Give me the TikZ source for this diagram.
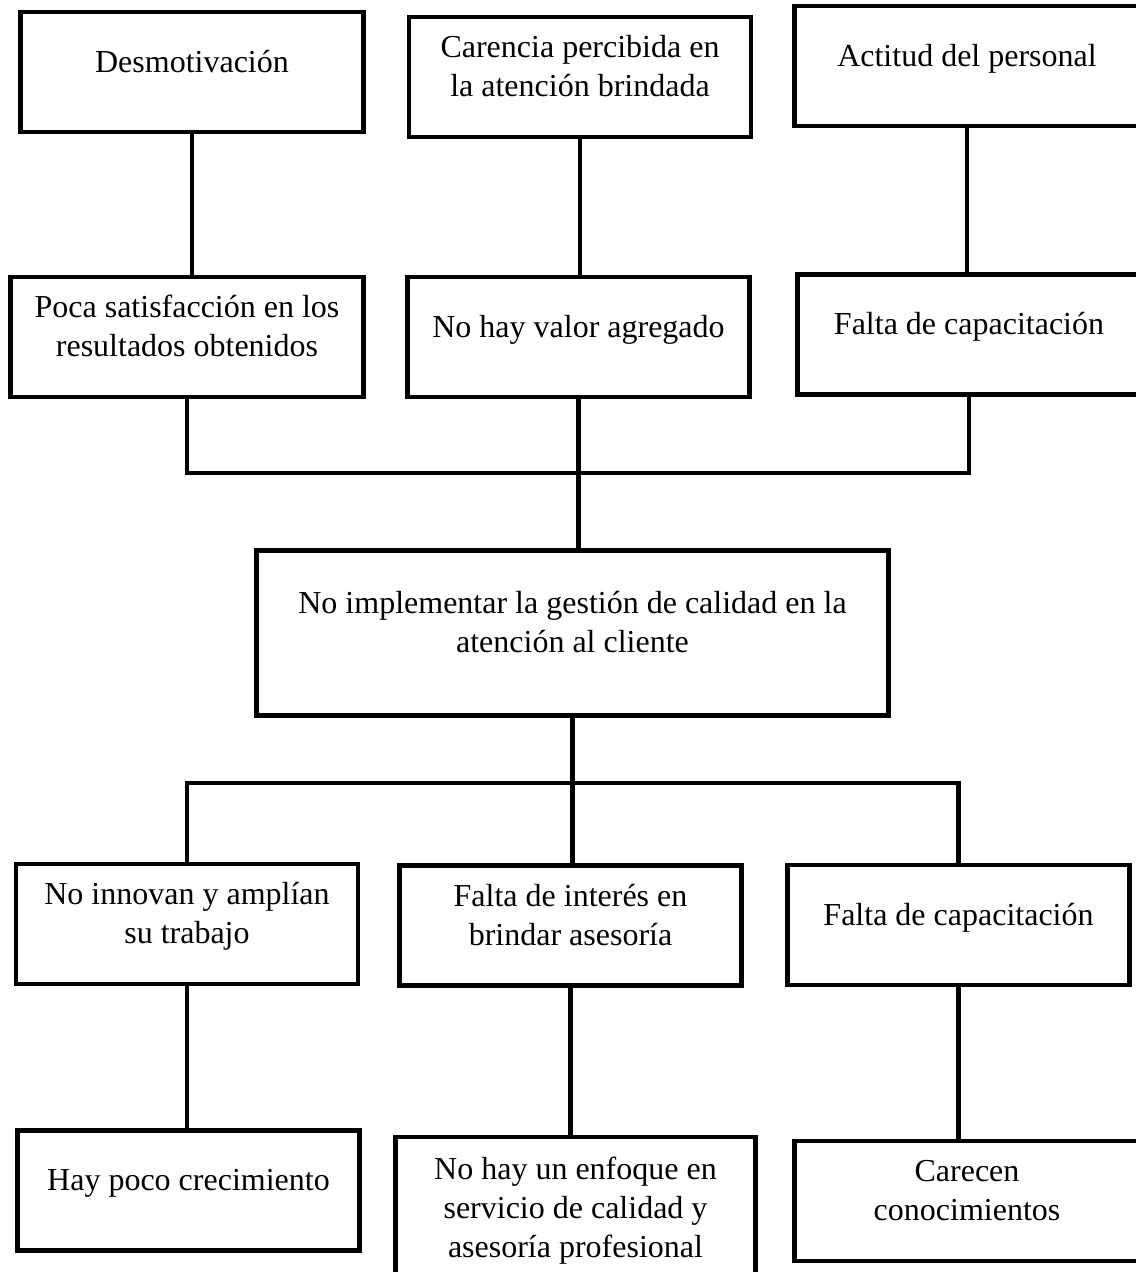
\documentclass[tikz,border=0pt]{standalone}
\usepackage{fontspec}
\setmainfont{Liberation Serif}
\tikzset{
    cause/.style={rectangle, draw, line width=2.4pt, align=center, inner sep=0pt,
        text depth=11pt, font=\fontsize{16}{19.5}\selectfont,
        minimum width=171pt, minimum height=60pt},
    link/.style={line width=2.2pt}
}

\begin{document}
\begin{tikzpicture}[x=0.5pt, y=-0.5pt]
    \useasboundingbox (0,0) rectangle (1135,1272);
    \fill[white] (0,0) rectangle (1135,1272);

    % causas
    \node[cause, minimum width=171.5pt] (d1) at (192,72) {Desmotivación};
    \node[cause] (c1) at (580,77) {Carencia percibida en\\la atención brindada};
    \node[cause, minimum width=172.5pt] (a1) at (967,66) {Actitud del personal};

    \node[cause, minimum width=176.5pt] (p1) at (187,337) {Poca satisfacción en los\\resultados obtenidos};
    \node[cause] (v1) at (578.5,337) {No hay valor agregado};
    \node[cause, minimum width=171.5pt] (f1) at (969,334.5) {Falta de capacitación};

    % problema
    \node[cause, minimum width=316pt, minimum height=82.5pt] (g) at (572.5,633)
        {No implementar la gestión de calidad en la\\atención al cliente};

    % efectos
    \node[cause] (n3) at (187,924) {No innovan y amplían\\su trabajo};
    \node[cause] (i3) at (570.5,925.5) {Falta de interés en\\brindar asesoría};
    \node[cause] (k3) at (958.5,925) {Falta de capacitación};

    \node[cause] (h4) at (188.5,1190.5) {Hay poco crecimiento};
    \node[cause, minimum width=180pt, minimum height=74pt, text depth=4pt] (e4) at (575.5,1211)
        {No hay un enfoque en\\servicio de calidad y\\asesoría profesional};
    \node[cause, minimum width=172.5pt] (k4) at (967,1201) {Carecen\\conocimientos};

    \coordinate (tbus) at (578.5,473);
    \coordinate (bbus) at (572.5,783);

    \draw[link] (d1.south) -- (d1.south |- p1.north);
    \draw[link] (c1.south) -- (c1.south |- v1.north);
    \draw[link] (a1.south) -- (a1.south |- f1.north);
    \draw[link] (p1.south) |- (tbus) -| (f1.south);
    \draw[link] (v1.south) -- (v1.south |- g.north);

    \draw[link] (g.south) -- (g.south |- i3.north);
    \draw[link] (n3.north) |- (bbus) -| (k3.north);

    \draw[link] (n3.south) -- (n3.south |- h4.north);
    \draw[link] (i3.south) -- (i3.south |- e4.north);
    \draw[link] (k3.south) -- (k3.south |- k4.north);
\end{tikzpicture}
\end{document}
